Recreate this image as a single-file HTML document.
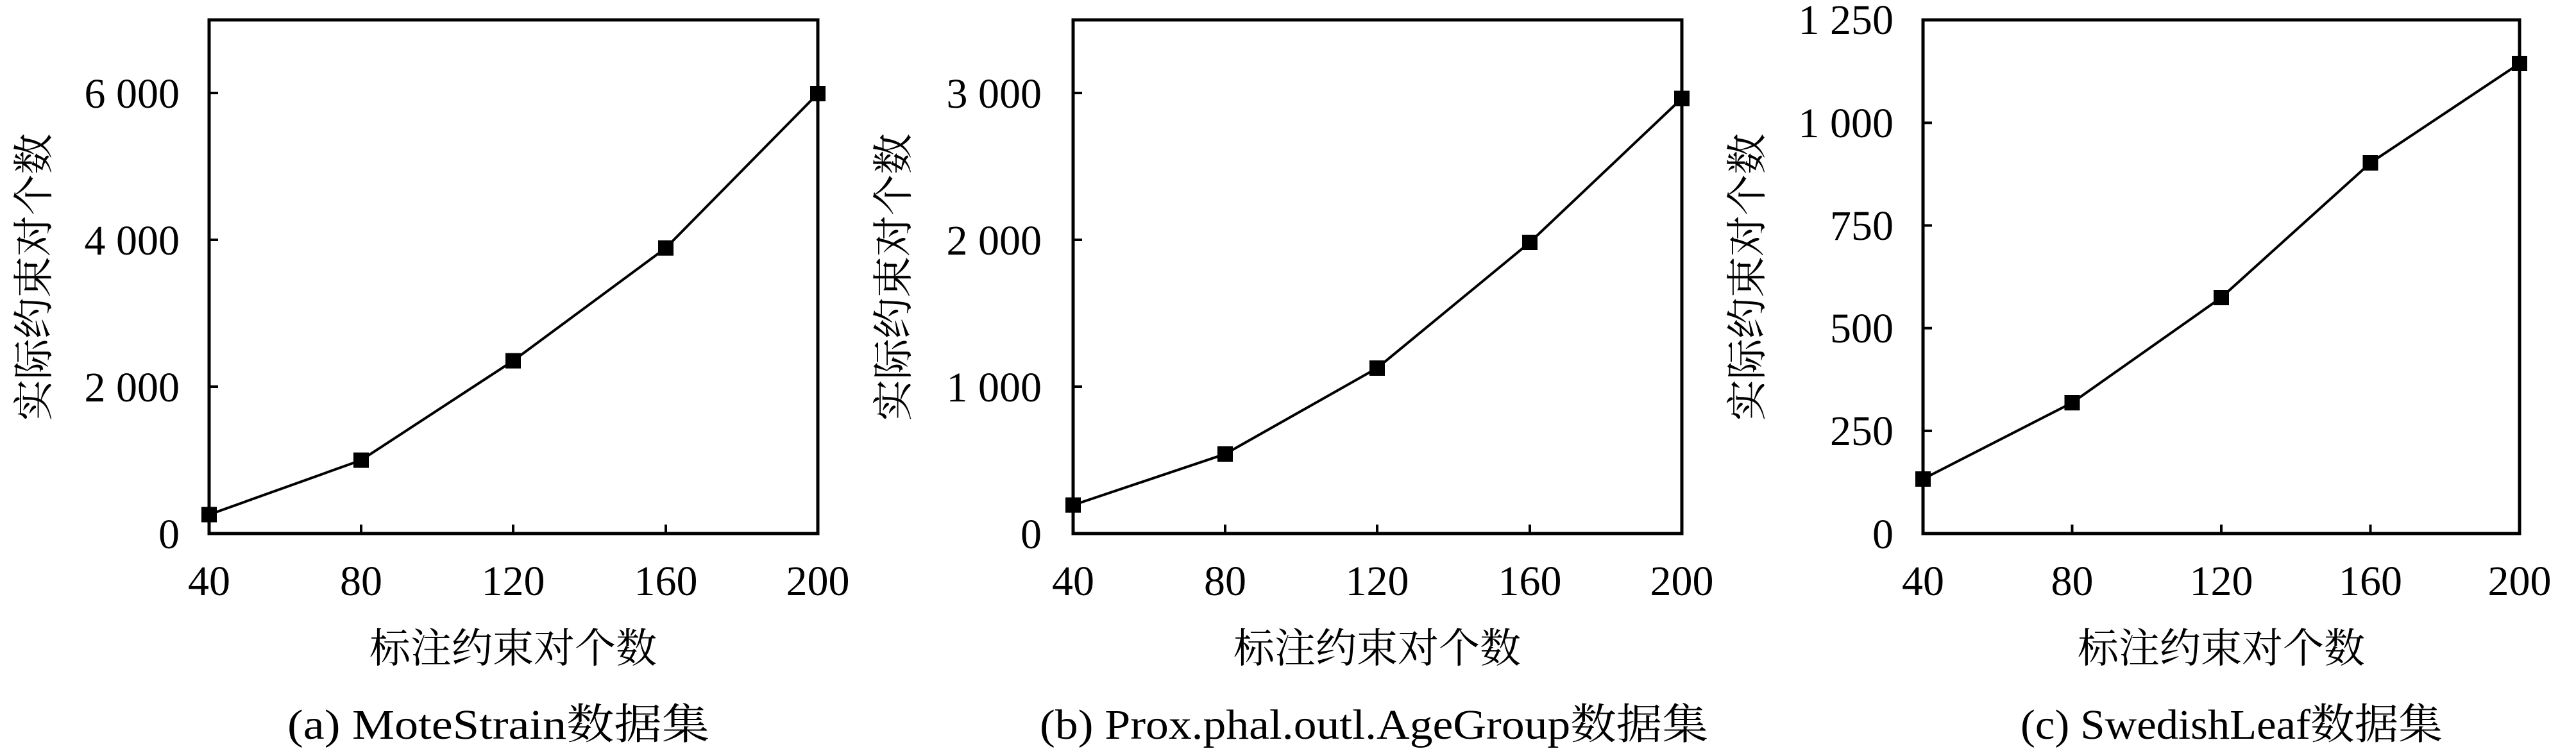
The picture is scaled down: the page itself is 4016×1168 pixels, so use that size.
<!DOCTYPE html>
<html><head><meta charset="utf-8"><style>
html,body{margin:0;padding:0;background:#fff;}
svg{display:block;}
text{font-family:"Liberation Serif","Noto Serif CJK SC",serif;fill:#000;}
</style></head><body>
<svg width="4016" height="1168" viewBox="0 0 4016 1168" xmlns="http://www.w3.org/2000/svg">
<!-- Panel a -->
<g>
<rect x="326" y="31" width="949" height="801" fill="none" stroke="#000" stroke-width="5"/>
<g stroke="#000" stroke-width="4">
<line x1="563" y1="832" x2="563" y2="818"/><line x1="800" y1="832" x2="800" y2="818"/><line x1="1038" y1="832" x2="1038" y2="818"/>
<line x1="326" y1="145" x2="340" y2="145"/><line x1="326" y1="374" x2="340" y2="374"/><line x1="326" y1="603" x2="340" y2="603"/>
</g>
<g font-size="66" text-anchor="end">
<text x="280" y="168">6 000</text><text x="280" y="397">4 000</text><text x="280" y="626">2 000</text><text x="280" y="855">0</text>
</g>
<g font-size="66" text-anchor="middle">
<text x="326" y="928">40</text><text x="563" y="928">80</text><text x="800" y="928">120</text><text x="1038" y="928">160</text><text x="1275" y="928">200</text>
</g>
<polyline fill="none" stroke="#000" stroke-width="4" points="326,802.5 563,717.6 800,562.6 1038,386.7 1275,146"/>
<g fill="#000"><rect x="314" y="790.5" width="24" height="24"/><rect x="551" y="705.6" width="24" height="24"/><rect x="788" y="550.6" width="24" height="24"/><rect x="1026" y="374.7" width="24" height="24"/><rect x="1263" y="134" width="24" height="24"/></g>
<text x="800" y="1033" font-size="64" text-anchor="middle">标注约束对个数</text>
<text transform="translate(75,432) rotate(-90)" font-size="64" text-anchor="middle">实际约束对个数</text>
<text x="448" y="1152" font-size="66" textLength="658" lengthAdjust="spacingAndGlyphs">(a) MoteStrain数据集</text>
</g>
<!-- Panel b -->
<g>
<rect x="1673" y="31" width="949" height="801" fill="none" stroke="#000" stroke-width="5"/>
<g stroke="#000" stroke-width="4">
<line x1="1910" y1="832" x2="1910" y2="818"/><line x1="2147" y1="832" x2="2147" y2="818"/><line x1="2385" y1="832" x2="2385" y2="818"/>
<line x1="1673" y1="145" x2="1687" y2="145"/><line x1="1673" y1="374" x2="1687" y2="374"/><line x1="1673" y1="603" x2="1687" y2="603"/>
</g>
<g font-size="66" text-anchor="end">
<text x="1624" y="168">3 000</text><text x="1624" y="397">2 000</text><text x="1624" y="626">1 000</text><text x="1624" y="855">0</text>
</g>
<g font-size="66" text-anchor="middle">
<text x="1673" y="928">40</text><text x="1910" y="928">80</text><text x="2147" y="928">120</text><text x="2385" y="928">160</text><text x="2622" y="928">200</text>
</g>
<polyline fill="none" stroke="#000" stroke-width="4" points="1673,787.6 1910,708 2147,574 2385,378 2622,153.5"/>
<g fill="#000"><rect x="1661" y="775.6" width="24" height="24"/><rect x="1898" y="696" width="24" height="24"/><rect x="2135" y="562" width="24" height="24"/><rect x="2373" y="366" width="24" height="24"/><rect x="2610" y="141.5" width="24" height="24"/></g>
<text x="2147" y="1033" font-size="64" text-anchor="middle">标注约束对个数</text>
<text transform="translate(1415,432) rotate(-90)" font-size="64" text-anchor="middle">实际约束对个数</text>
<text x="1621" y="1152" font-size="66" textLength="1042" lengthAdjust="spacingAndGlyphs">(b) Prox.phal.outl.AgeGroup数据集</text>
</g>
<!-- Panel c -->
<g>
<rect x="2998" y="31" width="930" height="801" fill="none" stroke="#000" stroke-width="5"/>
<g stroke="#000" stroke-width="4">
<line x1="3230.5" y1="832" x2="3230.5" y2="818"/><line x1="3463" y1="832" x2="3463" y2="818"/><line x1="3695.5" y1="832" x2="3695.5" y2="818"/>
<line x1="2998" y1="191.5" x2="3012" y2="191.5"/><line x1="2998" y1="351.6" x2="3012" y2="351.6"/><line x1="2998" y1="511.7" x2="3012" y2="511.7"/><line x1="2998" y1="671.9" x2="3012" y2="671.9"/>
</g>
<g font-size="66" text-anchor="end">
<text x="2952" y="53">1 250</text><text x="2952" y="214">1 000</text><text x="2952" y="374">750</text><text x="2952" y="534">500</text><text x="2952" y="694">250</text><text x="2952" y="855">0</text>
</g>
<g font-size="66" text-anchor="middle">
<text x="2998" y="928">40</text><text x="3230.5" y="928">80</text><text x="3463" y="928">120</text><text x="3695.5" y="928">160</text><text x="3928" y="928">200</text>
</g>
<polyline fill="none" stroke="#000" stroke-width="4" points="2998,747 3230.5,628 3463,464 3695.5,254 3928,99"/>
<g fill="#000"><rect x="2986" y="735" width="24" height="24"/><rect x="3218.5" y="616" width="24" height="24"/><rect x="3451" y="452" width="24" height="24"/><rect x="3683.5" y="242" width="24" height="24"/><rect x="3916" y="87" width="24" height="24"/></g>
<text x="3463" y="1033" font-size="64" text-anchor="middle">标注约束对个数</text>
<text transform="translate(2746,432) rotate(-90)" font-size="64" text-anchor="middle">实际约束对个数</text>
<text x="3150" y="1152" font-size="66" textLength="658" lengthAdjust="spacingAndGlyphs">(c) SwedishLeaf数据集</text>
</g>
</svg>
</body></html>
